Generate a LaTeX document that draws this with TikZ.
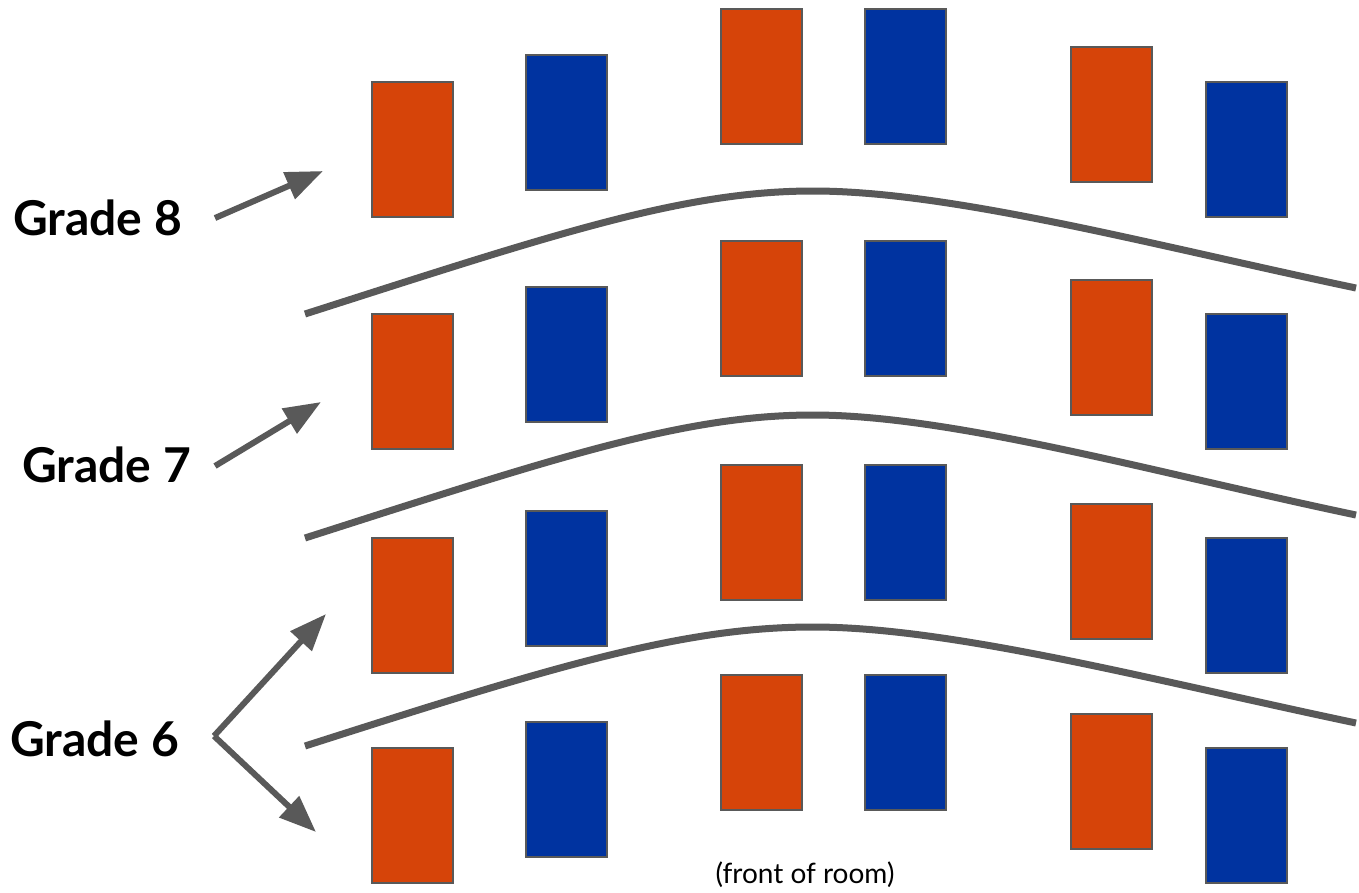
\documentclass[tikz,border=0pt]{standalone}
\usepackage{fontspec}
\setmainfont{Lato}
\usetikzlibrary{arrows.meta}
\definecolor{deskorange}{HTML}{D64409}
\definecolor{deskblue}{HTML}{0033A0}
\definecolor{lineg}{HTML}{595959}
\tikzset{
  desk/.style={draw=lineg, line width=2pt, inner sep=0pt, minimum width=81pt, minimum height=135pt, anchor=north west},
  odesk/.style={desk, fill=deskorange},
  bdesk/.style={desk, fill=deskblue},
  divider/.style={draw=lineg, line width=7pt},
  pointer/.style={draw=lineg, line width=6pt, -{Triangle[length=37pt,width=28pt]}},
  grade/.style={font=\fontsize{48}{56}\selectfont\bfseries, anchor=base west, inner sep=0pt},
}
\begin{document}
\begin{tikzpicture}[x=1pt,y=-1pt]
\useasboundingbox (0,0) rectangle (1359,892);
\fill[white] (0,0) rectangle (1359,892);
% desks
\foreach \r/\a/\b/\c/\d/\e/\f in {1/81/54/8/8/46/81, 2/313/286/240/240/279/313, 3/537/510/464/464/503/537, 4/747/721/674/674/713/747}{
  \node[odesk] (d\r a) at (371,\a) {};
  \node[bdesk] (d\r b) at (525,\b) {};
  \node[odesk] (d\r c) at (720,\c) {};
  \node[bdesk] (d\r d) at (864,\d) {};
  \node[odesk] (d\r e) at (1070,\e) {};
  \node[bdesk] (d\r f) at (1205,\f) {};
}
% dividers
\foreach \i/\l/\p/\rr in {1/314/191/288, 2/538/415/515, 3/746/627/723}{
  \coordinate (l\i) at (305,\l);
  \coordinate (p\i) at (813,\p);
  \coordinate (q\i) at (1356,\rr);
  \draw[divider] (l\i) .. controls +(250,-80) and +(-130,0) .. (p\i)
                       .. controls +(140,0) and +(-200,-42) .. (q\i);
}
% labels
\node[grade] (g8) at (13,235) {Grade 8};
\node[grade] (g7) at (22,482) {Grade 7};
\node[grade] (g6) at (10,756) {Grade 6};
\node[font=\fontsize{28}{32}\selectfont, anchor=base, inner sep=0pt] (front) at (805,883) {(front of room)};
% arrows
\coordinate (a8s) at (215,218);
\coordinate (a8e) at (323,171);
\coordinate (a7s) at (215,466);
\coordinate (a7e) at (321,402);
\coordinate (a6s) at (214,736);
\coordinate (a6u) at (326,614);
\coordinate (a6d) at (316,832);
\draw[pointer] (a8s) -- (a8e);
\draw[pointer] (a7s) -- (a7e);
\draw[pointer] (a6s) -- (a6u);
\draw[pointer] (a6s) -- (a6d);
\end{tikzpicture}
\end{document}
